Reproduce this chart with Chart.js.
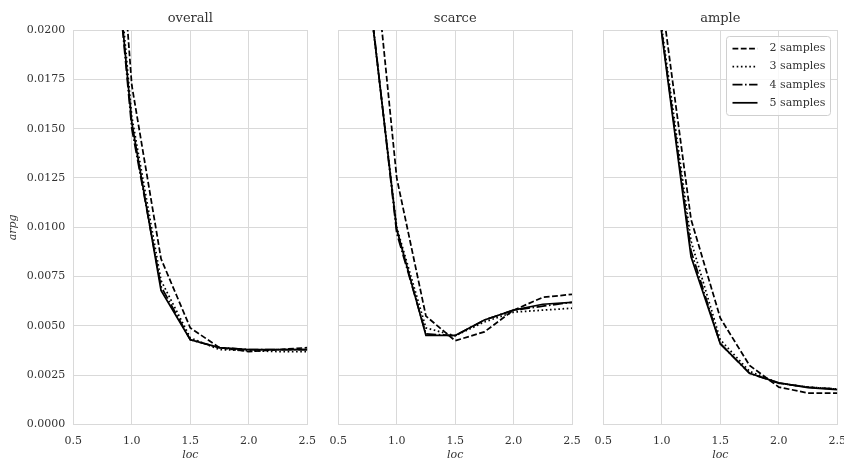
<!DOCTYPE html>
<html>
<head>
<meta charset="utf-8">
<script src="https://cdn.jsdelivr.net/npm/chart.js@4.4.1/dist/chart.umd.min.js"></script>
<style>
  html, body { margin: 0; padding: 0; background: #fff; overflow: hidden; width: 844px; height: 461px; }
  #wrap { position: relative; width: 844px; height: 461px; overflow: hidden; }
  #wrap canvas { position: absolute; left: 0; top: 0; }
</style>
</head>
<body>
<div id="wrap">
  <canvas id="pOverall" width="880" height="462" style="width:880px;height:462px"></canvas>
  <canvas id="pScarce" width="880" height="462" style="width:880px;height:462px"></canvas>
  <canvas id="pAmple" width="880" height="462" style="width:880px;height:462px"></canvas>
</div>
<script>
// ---- data ----
const locs = [0.75, 1.0, 1.25, 1.5, 1.75, 2.0, 2.25, 2.5];
const seriesLabels = ['2 samples', '3 samples', '4 samples', '5 samples'];
const panelTitles = ['overall', 'scarce', 'ample'];
const xTicks = [0.5, 1.0, 1.5, 2.0, 2.5];
const yTicks = [0, 0.0025, 0.005, 0.0075, 0.01, 0.0125, 0.015, 0.0175, 0.02];

const overall2 = [0.0370, 0.0172, 0.0084, 0.0049, 0.0039, 0.0037, 0.0038, 0.0039];
const overall3 = [0.0320, 0.0156, 0.0073, 0.0044, 0.0038, 0.00375, 0.0037, 0.0037];
const overall4 = [0.0310, 0.0150, 0.0070, 0.0043, 0.0039, 0.0038, 0.0038, 0.0038];
const overall5 = [0.0310, 0.0153, 0.0068, 0.0043, 0.0039, 0.0038, 0.0038, 0.0038];

const scarce2 = [0.0273, 0.0125, 0.0055, 0.00425, 0.0047, 0.0058, 0.00645, 0.0066];
const scarce3 = [0.0225, 0.0100, 0.0049, 0.0045, 0.0052, 0.0057, 0.0058, 0.0059];
const scarce4 = [0.0228, 0.0097, 0.0046, 0.0045, 0.0053, 0.0058, 0.0060, 0.0062];
const scarce5 = [0.0226, 0.0099, 0.00452, 0.00452, 0.0053, 0.0058, 0.0061, 0.0062];

const ample2 = [0.0350, 0.0215, 0.0104, 0.0054, 0.0030, 0.0019, 0.0016, 0.0016];
const ample3 = [0.0340, 0.0201, 0.0093, 0.0043, 0.0027, 0.0021, 0.0019, 0.0018];
const ample4 = [0.0340, 0.0199, 0.0088, 0.0041, 0.0026, 0.0021, 0.0019, 0.0018];
const ample5 = [0.0340, 0.0198, 0.0085, 0.0041, 0.0026, 0.00212, 0.00188, 0.00177];

// ---- styling ----
const SERIF = "'DejaVu Serif', serif";
const TEXT = '#333333';
const GRID = '#d9d9d9';
const LINE_W = 1.75;
const dashes = [[5.8, 2.5], [1.6, 2.6], [10, 2.5, 1.6, 2.5], []];
const CANVAS_W = 880;
const plotLeft = [73.3, 338.3, 603.3];
const plotRight = [307.3, 572, 837.3];
const Y_AXIS_W = 73.3;
const X_AXIS_H = 37.4;

function buildDatasets(series) {
  return series.map((vals, i) => ({
    label: seriesLabels[i],
    data: locs.map((x, j) => ({ x: x, y: vals[j] })),
    borderColor: '#000000',
    backgroundColor: '#000000',
    borderWidth: LINE_W,
    borderDash: dashes[i],
    pointRadius: 0,
    pointHoverRadius: 0,
    tension: 0,
    fill: false
  }));
}

// legend drawn inside the plot area, top-right
const insideLegend = {
  id: 'insideLegend',
  afterDraw(chart) {
    const { ctx, chartArea } = chart;
    const w = 104, h = 79;
    const x = Math.round(chartArea.right - 7.3 - w) + 0.5;
    const y = Math.round(chartArea.top + 6) + 0.5;
    ctx.save();
    ctx.beginPath();
    const r = 3;
    ctx.moveTo(x + r, y);
    ctx.lineTo(x + w - r, y);
    ctx.arcTo(x + w, y, x + w, y + r, r);
    ctx.lineTo(x + w, y + h - r);
    ctx.arcTo(x + w, y + h, x + w - r, y + h, r);
    ctx.lineTo(x + r, y + h);
    ctx.arcTo(x, y + h, x, y + h - r, r);
    ctx.lineTo(x, y + r);
    ctx.arcTo(x, y, x + r, y, r);
    ctx.closePath();
    ctx.fillStyle = 'rgba(255,255,255,0.8)';
    ctx.fill();
    ctx.strokeStyle = '#cfcfcf';
    ctx.lineWidth = 1;
    ctx.stroke();
    ctx.font = '11px ' + SERIF;
    ctx.textBaseline = 'middle';
    ctx.textAlign = 'left';
    chart.data.datasets.forEach((ds, i) => {
      const ry = y + 12 + i * 18.1;
      ctx.beginPath();
      ctx.setLineDash(ds.borderDash || []);
      ctx.lineWidth = ds.borderWidth;
      ctx.strokeStyle = ds.borderColor;
      ctx.moveTo(x + 6, ry);
      ctx.lineTo(x + 31, ry);
      ctx.stroke();
      ctx.setLineDash([]);
      ctx.fillStyle = TEXT;
      ctx.fillText(ds.label, x + 43, ry);
    });
    ctx.restore();
  }
};

function makePanel(canvasId, idx, series) {
  const first = idx === 0;
  const yW = first ? Y_AXIS_W : 0;
  const plugins = idx === 2 ? [insideLegend] : [];
  return new Chart(document.getElementById(canvasId), {
    type: 'line',
    data: { datasets: buildDatasets(series) },
    plugins: plugins,
    options: {
      responsive: false,
      animation: false,
      devicePixelRatio: 1,
      events: [],
      layout: {
        padding: { left: plotLeft[idx] - yW, right: CANVAS_W - plotRight[idx], top: 0, bottom: 0 }
      },
      plugins: {
        legend: { display: false },
        tooltip: { enabled: false },
        title: {
          display: true,
          text: panelTitles[idx],
          fullSize: false,
          color: TEXT,
          font: { family: SERIF, size: 13, weight: 'normal', lineHeight: 1.2 },
          padding: { top: 10.4, bottom: 4 }
        }
      },
      scales: {
        x: {
          type: 'linear',
          min: 0.5,
          max: 2.5,
          afterBuildTicks: (s) => { s.ticks = xTicks.map(v => ({ value: v })); },
          afterFit: (s) => { s.height = X_AXIS_H; },
          grid: { color: GRID, lineWidth: 1, drawTicks: false },
          border: { color: GRID, width: 1 },
          ticks: {
            color: TEXT,
            padding: 9.5,
            maxRotation: 0,
            font: { family: SERIF, size: 11 },
            callback: (v) => Number(v).toFixed(1)
          },
          title: {
            display: true,
            text: 'loc',
            color: TEXT,
            padding: { top: 0, bottom: 0 },
            font: { family: SERIF, size: 11, style: 'italic' }
          }
        },
        y: {
          type: 'linear',
          min: 0,
          max: 0.02,
          afterBuildTicks: (s) => { s.ticks = yTicks.map(v => ({ value: v })); },
          afterFit: (s) => { s.width = yW; },
          grid: { color: GRID, lineWidth: 1, drawTicks: false },
          border: { color: GRID, width: 1 },
          ticks: {
            display: first,
            color: TEXT,
            padding: 8,
            font: { family: SERIF, size: 11 },
            callback: (v) => Number(v).toFixed(4)
          },
          title: {
            display: first,
            text: 'arpg',
            color: TEXT,
            padding: { top: 7, bottom: 0 },
            font: { family: SERIF, size: 11, style: 'italic' }
          }
        }
      }
    }
  });
}

makePanel('pOverall', 0, [overall2, overall3, overall4, overall5]);
makePanel('pScarce', 1, [scarce2, scarce3, scarce4, scarce5]);
makePanel('pAmple', 2, [ample2, ample3, ample4, ample5]);
</script>
</body>
</html>
